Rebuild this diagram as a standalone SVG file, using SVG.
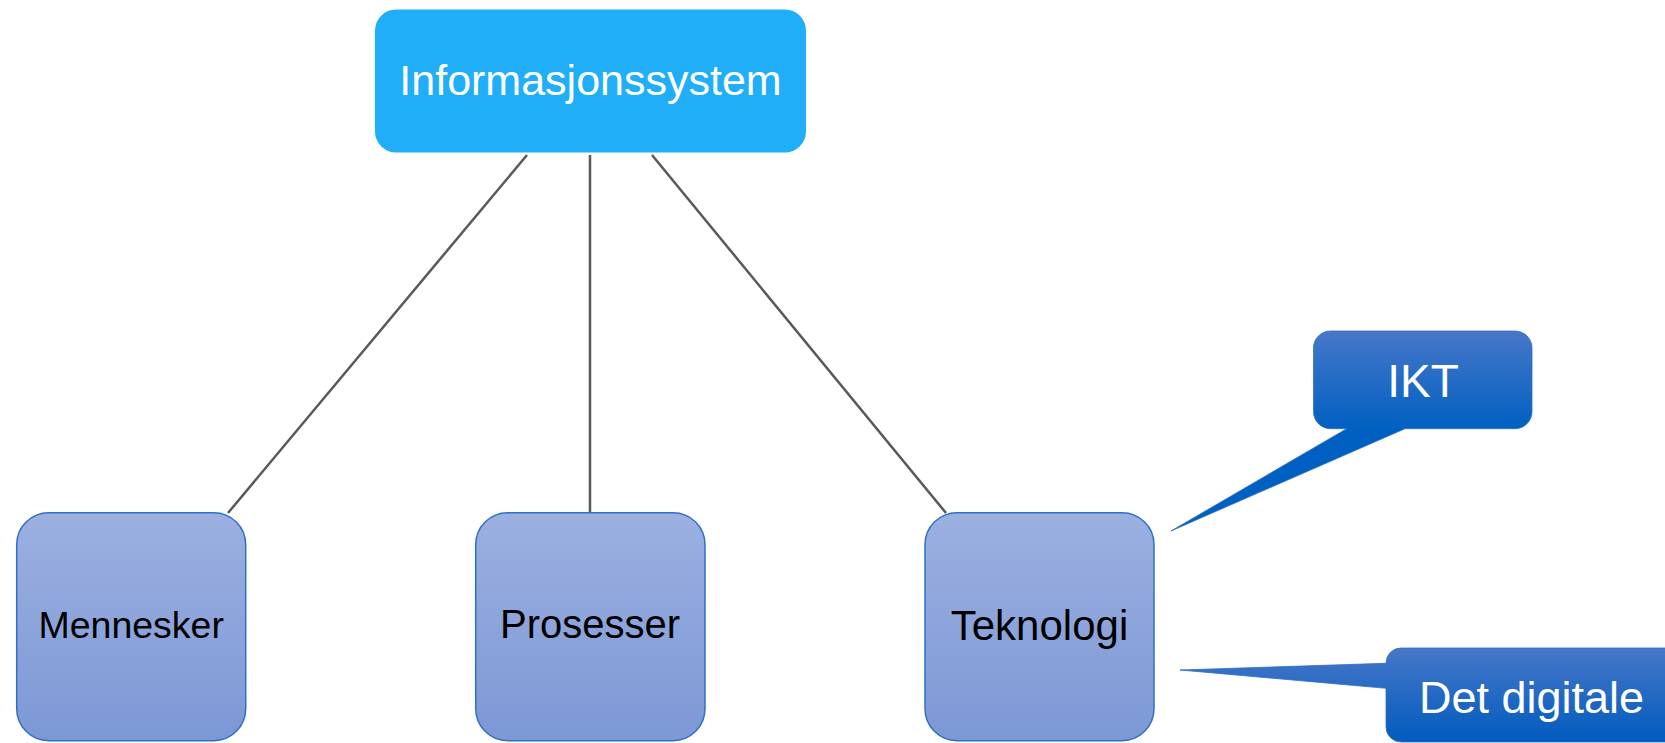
<svg xmlns="http://www.w3.org/2000/svg" width="1665" height="743" viewBox="0 0 1665 743">
  <defs>
    <linearGradient id="boxGrad" x1="0" y1="0" x2="0" y2="1">
      <stop offset="0" stop-color="#9CB0E1"/>
      <stop offset="1" stop-color="#7C98D5"/>
    </linearGradient>
    <linearGradient id="iktGrad" gradientUnits="userSpaceOnUse" x1="0" y1="331" x2="0" y2="429">
      <stop offset="0" stop-color="#4777C8"/>
      <stop offset="1" stop-color="#0060C2"/>
    </linearGradient>
    <linearGradient id="digGrad" gradientUnits="userSpaceOnUse" x1="0" y1="648" x2="0" y2="743">
      <stop offset="0" stop-color="#4777C8"/>
      <stop offset="1" stop-color="#005BBE"/>
    </linearGradient>
    <style>
      .lbl { font-family: "Liberation Sans", Arial, sans-serif; text-anchor: middle; }
      .sub rect { fill: url(#boxGrad); stroke: #2E70C6; stroke-width: 1.5; }
      .sub text { fill: #000000; }
      .conn { stroke: #595959; stroke-width: 2.5; fill: none; }
      .light { fill: #FFFFFF; }
    </style>
  </defs>

  <!-- connectors from the root node -->
  <g id="connectors">
    <line class="conn" x1="527" y1="155" x2="228" y2="513"/>
    <line class="conn" x1="590" y1="155" x2="590" y2="513"/>
    <line class="conn" x1="652" y1="155" x2="946" y2="513"/>
  </g>

  <!-- root node -->
  <g id="informasjonssystem">
    <rect x="375" y="9.5" width="431" height="143" rx="21" ry="21" fill="#20AEF8"/>
    <text class="lbl light" x="590.5" y="95" font-size="43">Informasjonssystem</text>
  </g>

  <g id="mennesker" class="sub">
    <rect x="16.7" y="512.7" width="229" height="228" rx="32" ry="32"/>
    <text class="lbl" x="131.2" y="638" font-size="37.5">Mennesker</text>
  </g>

  <g id="prosesser" class="sub">
    <rect x="475.7" y="512.7" width="229.3" height="228" rx="32" ry="32"/>
    <text class="lbl" x="590" y="638" font-size="40">Prosesser</text>
  </g>

  <g id="teknologi" class="sub">
    <rect x="925" y="512.7" width="229" height="228" rx="32" ry="32"/>
    <text class="lbl" x="1039.5" y="640" font-size="42">Teknologi</text>
  </g>

  <!-- callout: IKT -->
  <g id="ikt">
    <path d="M1330.5,331 H1515 A17,17 0 0 1 1532,348 V411.7 A17,17 0 0 1 1515,428.7 H1405 L1171,531 L1346.7,428.7 H1330.5 A17,17 0 0 1 1313.5,411.7 V348 A17,17 0 0 1 1330.5,331 Z" fill="url(#iktGrad)" stroke="#2E6FC4" stroke-width="0.8"/>
    <text class="lbl light" x="1423" y="397.3" font-size="46">IKT</text>
  </g>

  <!-- callout: Det digitale (runs off the right edge) -->
  <g id="det-digitale">
    <path d="M1401,648 H1680 V742 H1401 A15,15 0 0 1 1386,727 V688.3 L1180,670 L1386,663.3 V663 A15,15 0 0 1 1401,648 Z" fill="url(#digGrad)" stroke="#2E6FC4" stroke-width="0.8"/>
    <text class="lbl light" x="1531.5" y="713.3" font-size="45">Det digitale</text>
  </g>
</svg>
